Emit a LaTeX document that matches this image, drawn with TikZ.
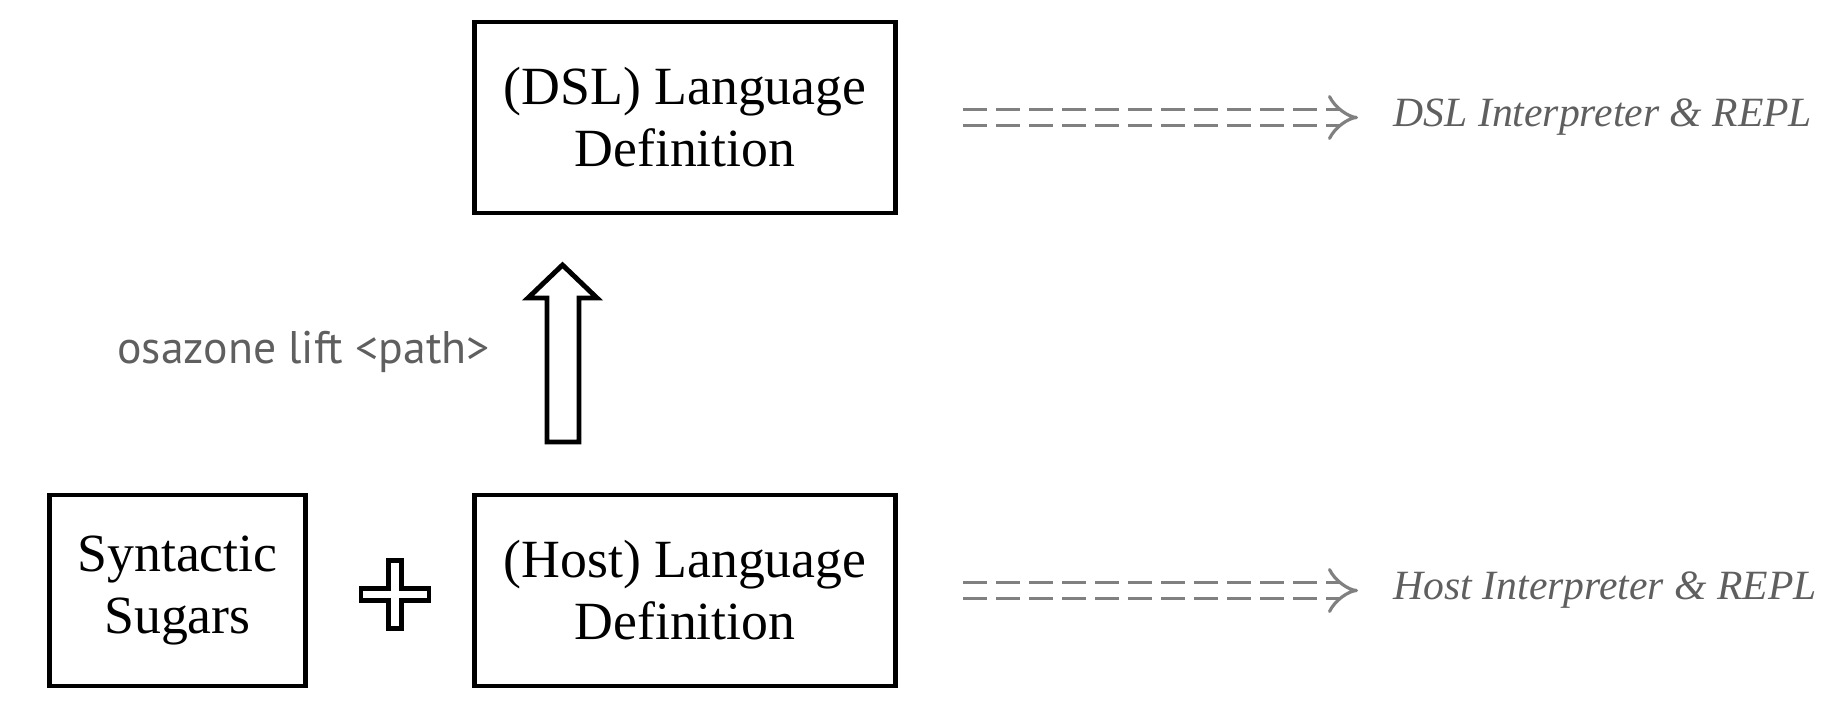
\documentclass[tikz,border=0pt]{standalone}
\usepackage{fontspec}
\setmainfont{Liberation Serif}
\newfontfamily\notefont{PT Sans}
\usetikzlibrary{arrows.meta, positioning}
\definecolor{notegray}{HTML}{5F5F5F}
\definecolor{dashgray}{HTML}{808080}

\begin{document}
\begin{tikzpicture}[
    langdef/.style={rectangle, draw=black, line width=1.4pt, minimum width=4.21cm, minimum height=1.91cm, align=center, font=\fontsize{15.3}{17.6}\selectfont},
    sugarbox/.style={langdef, minimum width=2.56cm},
    replarrow/.style={draw=dashgray, line width=0.9pt, double, double distance=3.6pt, dash pattern=on 6.8pt off 2.6pt, -{Implies[scale=0.8]}},
    replnote/.style={text=notegray, font=\fontsize{11.85}{14}\selectfont\itshape, anchor=west, inner sep=0pt},
    liftnote/.style={text=notegray, font=\notefont\fontsize{13}{15}\selectfont},
    outline/.style={draw=black, line width=1.4pt, fill=white}
]
\useasboundingbox (0,0) rectangle (18.43,7.21);

% Definitions
\node[langdef] (dsl) at (6.85, 6.035) {(DSL) Language\\Definition};
\node[langdef] (host) at (6.85, 1.305) {(Host) Language\\Definition};
\node[sugarbox] (sugar) at (1.775, 1.305) {Syntactic\\Sugars};

% Plus
\draw[outline] (3.886,1.605) -- (4.014,1.605) -- (4.014,1.329) -- (4.29,1.329) -- (4.29,1.201) -- (4.014,1.201)
    -- (4.014,0.925) -- (3.886,0.925) -- (3.886,1.201) -- (3.61,1.201) -- (3.61,1.329) -- (3.886,1.329) -- cycle;

% Lift
\draw[outline] (5.47,2.79) -- (5.47,4.23) -- (5.28,4.23) -- (5.625,4.56) -- (5.97,4.23) -- (5.79,4.23) -- (5.79,2.79) -- cycle;
\node[liftnote] (lift) at (3.035, 3.69) {osazone lift <path>};

% Interpreters
\node[replnote] (dslrepl) at (13.93, 6.035) {DSL Interpreter \& REPL};
\node[replnote] (hostrepl) at (13.93, 1.305) {Host Interpreter \& REPL};
\draw[replarrow, shorten <=0.65cm, shorten >=0.35cm] (dsl) -- (dslrepl);
\draw[replarrow, shorten <=0.65cm, shorten >=0.35cm] (host) -- (hostrepl);

\end{tikzpicture}
\end{document}
